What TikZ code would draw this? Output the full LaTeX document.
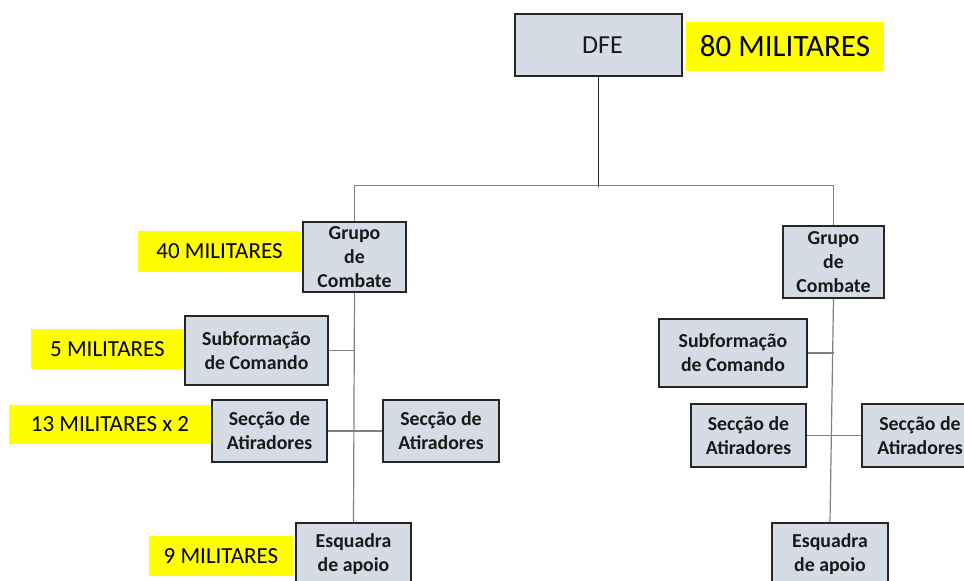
\documentclass[tikz,border=0pt]{standalone}
\usepackage{fontspec}
\setmainfont{Carlito}
\usetikzlibrary{calc}

\definecolor{boxfill}{HTML}{D6DCE5}
\definecolor{boxline}{HTML}{262626}
\definecolor{linkgray}{HTML}{808080}
\definecolor{tagyellow}{HTML}{FFFF00}

\begin{document}
\begin{tikzpicture}[x=1pt,y=-1pt,
    unit/.style={draw=boxline,fill=boxfill,line width=1.6pt,align=center,inner sep=0pt,
        text=black!90,font=\bfseries\fontsize{19.8}{24}\selectfont},
    tag/.style={fill=tagyellow,inner sep=0pt,text=black,font=\fontsize{23}{26}\selectfont},
    link/.style={linkgray,line width=1.2pt}]
\clip (0,0) rectangle (964,581);

\newcommand{\unitbox}[5]{
    \node[unit,minimum width=#3,minimum height=#4] (#1) at (#2) {#5};
}

\newcommand{\tagbox}[5]{
    \node[tag,minimum width=#3,minimum height=#4] (#1) at (#2) {#5};
}

% topo
\node[unit,font=\fontsize{26}{28}\selectfont,minimum width=167,minimum height=62] (dfe) at (598.5,45) {\hspace*{8pt}DFE};
\tagbox{tagdfe}{785,46.5}{198}{49}{\fontsize{31}{34}\selectfont 80 MILITARES}

% grupo de combate esquerdo
\unitbox{grupoA}{354.5,257}{103}{70}{Grupo\\de\\Combate}
\unitbox{subA}{256.5,350.5}{143}{69}{Subformação\\de Comando}
\unitbox{secA}{269.5,431}{115}{62}{Secção de\\Atiradores}
\unitbox{secAA}{441,431}{116}{62}{Secção de\\Atiradores}
\unitbox{esqA}{353.5,554}{115}{62}{Esquadra\\de apoio}

\tagbox{tagA}{219.5,251.5}{163}{41}{40 MILITARES}
\tagbox{tagsub}{107.5,349}{153}{40}{5 MILITARES}
\tagbox{tagsec}{110,424.5}{202}{39}{13 MILITARES x 2}
\tagbox{tagesq}{221,556}{144}{40}{9 MILITARES}

% grupo de combate direito
\unitbox{grupoB}{833.5,262}{101}{72}{Grupo\\de\\Combate}
\unitbox{subB}{733,353}{148}{68}{Subformação\\de Comando}
\unitbox{secB}{748.5,435.5}{115}{63}{Secção de\\Atiradores}
\unitbox{secBB}{920,435.5}{116}{63}{Secção de\\Atiradores}
\unitbox{esqB}{830,554}{116}{62}{Esquadra\\de apoio}

% ligacoes
\draw[boxline,line width=1.2pt] (dfe.south) -- ++(0,110);
\draw[link] (grupoA.north) -- ++(0,-36) -| (grupoB.north);

\draw[link] (grupoA.south) -- (esqA.north);
\draw[link] (subA.east) -- (subA.east -| grupoA.south);
\draw[link] (secA.east) -- (secAA.west);

\draw[link] (grupoB.south) -- (esqB.north);
\draw[link] (subB.east) -- (subB.east -| grupoB.south);
\draw[link] (secB.east) -- (secBB.west);
\end{tikzpicture}
\end{document}
